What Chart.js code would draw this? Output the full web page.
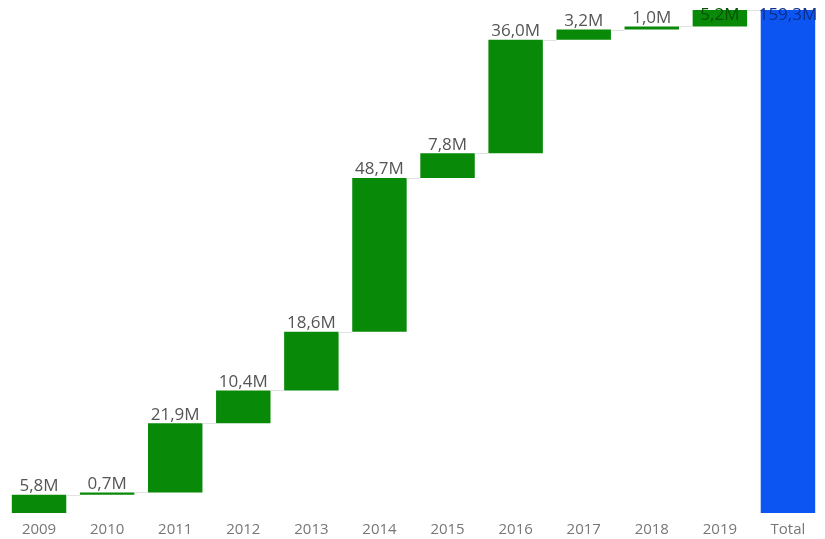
<!DOCTYPE html>
<html lang="en">
<head>
  <meta charset="UTF-8" />
  <title>Waterfall</title>
  <script src="https://cdn.jsdelivr.net/npm/chart.js"></script>
  <style>
    html, body { margin: 0; padding: 0; background: #fff; }
    #wrap { width: 825px; height: 539px; }
  </style>
</head>
<body>
  <div id="wrap"><canvas id="chart"></canvas></div>

  <script>
    const years = ["2009", "2010", "2011", "2012", "2013", "2014", "2015", "2016", "2017", "2018", "2019"];
    const changes = [5.8, 0.7, 21.9, 10.4, 18.6, 48.7, 7.8, 36.0, 3.2, 1.0, 5.2];
    const totalLabel = "Total";

    // build floating bars [start, end]
    const labels = years.concat([totalLabel]);
    const ranges = [];
    let run = 0;
    changes.forEach(v => { ranges.push([run, run + v]); run += v; });
    const total = Math.round(run * 10) / 10;
    ranges.push([0, total]);

    const colors = labels.map((l, i) => i === labels.length - 1 ? "#0d55f2" : "#088a08");
    const fmt = v => v.toFixed(1).replace(".", ",") + "M";

    const waterfallExtras = {
      id: "waterfallExtras",
      afterDatasetsDraw(chart) {
        const ctx = chart.ctx;
        const meta = chart.getDatasetMeta(0);
        const y = chart.scales.y;
        ctx.save();
        // connectors
        ctx.strokeStyle = "#e2e2e2";
        ctx.lineWidth = 1;
        for (let i = 0; i < meta.data.length - 1; i++) {
          const a = meta.data[i], b = meta.data[i + 1];
          const yy = Math.round(y.getPixelForValue(ranges[i][1])) + 0.5;
          ctx.beginPath();
          ctx.moveTo(a.x + a.width / 2, yy);
          ctx.lineTo(b.x - b.width / 2, yy);
          ctx.stroke();
        }
        // value labels
        ctx.font = "17px 'Open Sans', sans-serif";
        ctx.textAlign = "center";
        meta.data.forEach((bar, i) => {
          const r = ranges[i];
          const val = r[1] - r[0];
          const top = y.getPixelForValue(r[1]);
          const txt = fmt(val);
          if (top - 22 < 0) {
            ctx.textBaseline = "top";
            ctx.fillStyle = i === labels.length - 1 ? "#0a2f8a" : "#045004";
            ctx.fillText(txt, bar.x, top - 3);
          } else {
            ctx.textBaseline = "bottom";
            ctx.fillStyle = "#555";
            ctx.fillText(txt, bar.x, top);
          }
        });
        ctx.restore();
      }
    };

    new Chart(document.getElementById("chart"), {
      type: "bar",
      data: {
        labels: labels,
        datasets: [{
          data: ranges,
          backgroundColor: colors,
          borderWidth: 0,
          borderSkipped: false,
          barPercentage: 0.8,
          categoryPercentage: 1.0
        }]
      },
      options: {
        responsive: true,
        maintainAspectRatio: false,
        animation: false,
        layout: { padding: { left: 5, right: 3, top: 10, bottom: 0 } },
        plugins: { legend: { display: false }, tooltip: { enabled: false } },
        scales: {
          x: {
            grid: { display: false },
            border: { display: false },
            ticks: { color: "#777", font: { size: 15, family: "'Open Sans', sans-serif" }, padding: 0 }
          },
          y: {
            display: false,
            min: 0,
            max: total
          }
        }
      },
      plugins: [waterfallExtras]
    });
  </script>
</body>
</html>
